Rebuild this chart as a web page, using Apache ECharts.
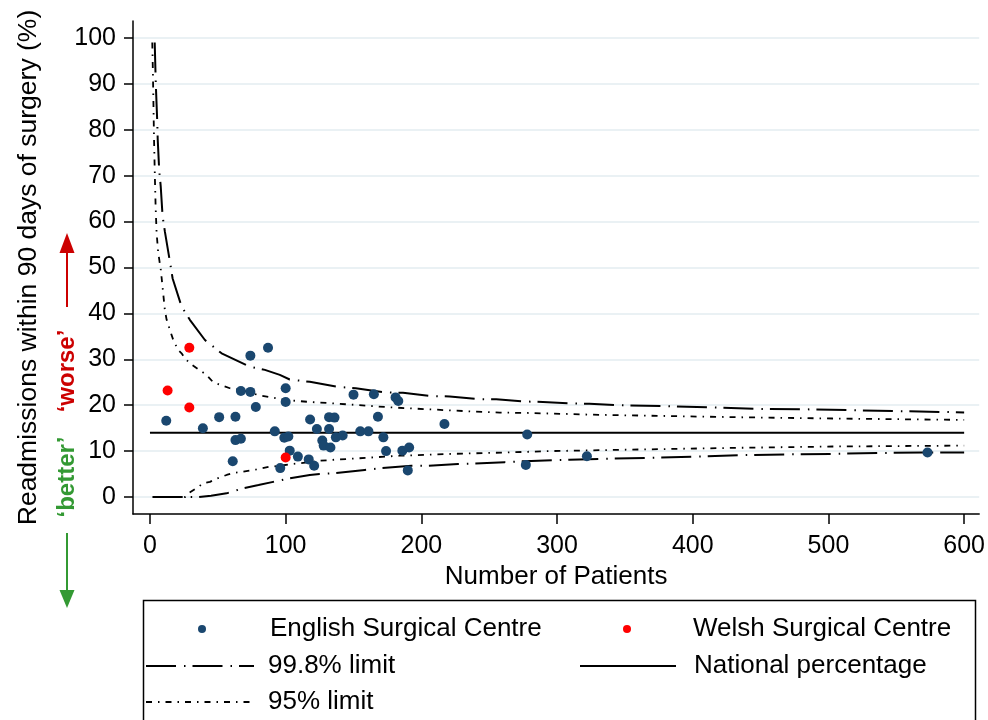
<!DOCTYPE html>
<html><head><meta charset="utf-8">
<script src="https://cdn.jsdelivr.net/npm/echarts@6/dist/echarts.min.js"></script>
<style>html,body{margin:0;padding:0;background:#fff}#c{width:988px;height:720px}</style>
</head><body><div id="c"></div>
<script>
const xTicks = [0, 100, 200, 300, 400, 500, 600];
const yTicks = [0, 10, 20, 30, 40, 50, 60, 70, 80, 90, 100];

const englishN = [87, 74, 67, 74, 100, 100, 78, 12, 51, 63, 118, 39, 92, 63, 67, 99, 102, 103, 109, 117, 61, 96, 150, 165, 181, 183, 132, 136, 168, 217, 123, 132, 155, 161, 278, 137, 142, 172, 127, 128, 133, 174, 186, 191, 121, 190, 277, 322, 573];
const englishPct = [32.5, 30.8, 23.1, 22.9, 23.7, 20.7, 19.6, 16.6, 17.4, 17.5, 16.9, 15.0, 14.3, 12.4, 12.7, 12.9, 13.2, 10.1, 8.8, 8.2, 7.8, 6.3, 22.3, 22.4, 21.7, 20.9, 17.4, 17.3, 17.5, 15.9, 14.8, 14.8, 14.3, 14.3, 13.6, 13.0, 13.4, 13.0, 12.3, 11.2, 10.8, 10.0, 10.1, 10.8, 6.8, 5.8, 7.0, 8.9, 9.7];

const welshN = [29, 13, 29, 100];
const welshPct = [32.5, 23.2, 19.5, 8.6];

const nationalN = [0, 600];
const nationalPct = [14.0, 14.0];

const upper998N = [3.5, 4.3, 5.4, 5.7, 6.8, 7.9, 9.3, 11, 14.7, 16.7, 23.3, 29.4, 40.5, 52.8, 73.6, 84.7, 95.7, 103, 117.8, 138.6, 151.7, 173, 186.5, 207.4, 220.9, 242.2, 255.2, 277.3, 289.6, 311.6, 323.9, 346, 380.4, 414.7, 450.3, 484.6, 519, 553, 589, 600];
const upper998Pct = [99, 90, 81.5, 78, 71.2, 67.8, 61.2, 57.8, 51.3, 47.6, 41.5, 38.6, 34.2, 31.3, 28.4, 27.7, 26.6, 25.6, 25.1, 24.0, 23.7, 22.8, 22.7, 22.0, 21.9, 21.3, 21.3, 20.8, 20.7, 20.4, 20.3, 20.0, 19.8, 19.5, 19.2, 19.1, 18.9, 18.7, 18.5, 18.4];

const upper95N = [1.7, 2.2, 2.6, 3, 3.6, 4.2, 4.9, 6, 7.2, 8, 11, 12.3, 14.7, 17.2, 20.8, 23.3, 25.8, 29.4, 41.7, 46.6, 58.9, 66.3, 80, 93, 105.5, 117.8, 135, 179, 233, 257.7, 280, 331, 429, 503, 600];
const upper95Pct = [99, 92, 85, 78, 70, 63, 57.5, 53.5, 51, 49.5, 40.7, 38.6, 36.4, 34.2, 32.0, 31.3, 30.2, 29.1, 26.6, 25.0, 23.7, 23.4, 22.2, 21.5, 21.0, 20.7, 20.4, 19.5, 18.7, 18.4, 18.3, 17.9, 17.4, 17.1, 16.8];

const lower998N = [2, 36, 45, 56.5, 63, 68.7, 80, 90.8, 101.8, 117.8, 125, 136.2, 158.3, 170.6, 192.7, 204.9, 227, 239.3, 261.4, 276, 297, 309, 331, 365.7, 400, 434.4, 470, 504, 538.7, 574, 600];
const lower998Pct = [0, 0, 0.3, 0.8, 1.4, 1.9, 2.6, 3.3, 4.0, 4.8, 5.0, 5.2, 5.9, 6.3, 6.8, 6.8, 7.2, 7.3, 7.6, 7.8, 8.0, 8.1, 8.3, 8.5, 8.8, 9.1, 9.3, 9.4, 9.6, 9.7, 9.7];

const lower95N = [2, 26, 28.2, 35.6, 39.2, 44.2, 49, 56.5, 61.3, 78.5, 88.3, 95.7, 105.5, 117.8, 125.2, 139.9, 152, 184, 223, 262.6, 294.5, 331, 429, 503, 600];
const lower95Pct = [0, 0, 0.8, 2.2, 3.0, 3.3, 4.0, 4.8, 5.2, 6.0, 6.6, 6.8, 7.2, 7.6, 7.9, 8.2, 8.4, 9.0, 9.4, 9.7, 10.0, 10.2, 10.7, 11.0, 11.2];

const zip = (a, b) => a.map((v, i) => [v, b[i]]);
const F = '"Liberation Sans", Arial, Helvetica, sans-serif';
const NAVY = '#1a476f';
const RED = '#ff0000';
const DASH998 = [30, 8, 1.5, 7];
const DASH95 = [6, 6, 1.5, 6];

const chart = echarts.init(document.getElementById('c'), null, {renderer: 'canvas'});

function leg(left, top, w, h, name, pad, hideSym) {
  return {
    left: left, top: top, orient: 'horizontal', padding: 0, selectedMode: false,
    itemWidth: w, itemHeight: h,
    data: [hideSym ? {name: name, itemStyle: {opacity: 0}} : name],
    textStyle: {fontFamily: F, fontSize: 26, color: '#000', lineHeight: 30, padding: [0, 0, 0, pad]}
  };
}

const option = {
  animation: false,
  backgroundColor: '#fff',
  grid: {left: 133, right: 8, top: 21, bottom: 206, containLabel: false},
  xAxis: {
    type: 'value', min: -12.5, max: 611.1,
    name: 'Number of Patients', nameLocation: 'middle', nameGap: 45,
    nameTextStyle: {fontFamily: F, fontSize: 26, color: '#000'},
    axisLine: {show: true, onZero: false, lineStyle: {color: '#000', width: 1.5}},
    axisTick: {show: true, length: 10, customValues: xTicks, lineStyle: {color: '#000', width: 1.5}},
    axisLabel: {customValues: xTicks, margin: 20, fontFamily: F, fontSize: 25, color: '#000'},
    splitLine: {show: false}
  },
  yAxis: {
    type: 'value', min: -3.7, max: 103.7,
    name: 'Readmissions within 90 days of surgery (%)', nameLocation: 'middle', nameGap: 91,
    nameTextStyle: {fontFamily: F, fontSize: 26.5, color: '#000'},
    axisLine: {show: true, onZero: false, lineStyle: {color: '#000', width: 1.5}},
    axisTick: {show: true, length: 9, customValues: yTicks, lineStyle: {color: '#000', width: 1.5}},
    axisLabel: {customValues: yTicks, margin: 17, fontFamily: F, fontSize: 25, color: '#000'},
    splitLine: {show: true, lineStyle: {color: '#e3ecf0', width: 1.5}}
  },
  legend: [
    leg(198, 614, 108, 8, 'English Surgical Centre', 9, false),
    leg(623, 614, 96, 8, 'Welsh Surgical Centre', 13, false),
    leg(145, 651, 108, 10, '99.8% limit', 9, true),
    leg(579, 651, 96, 10, 'National percentage', 13, true),
    leg(145, 687, 108, 10, '95% limit', 9, true)
  ],
  series: [
    {name: '99.8% limit', type: 'line', symbol: 'none', data: zip(upper998N, upper998Pct),
     lineStyle: {color: '#000', width: 2, type: DASH998}, itemStyle: {color: '#000'}, z: 2},
    {name: '99.8% limit', type: 'line', symbol: 'none', data: zip(lower998N, lower998Pct),
     lineStyle: {color: '#000', width: 2, type: DASH998}, itemStyle: {color: '#000'}, z: 2},
    {name: '95% limit', type: 'line', symbol: 'none', data: zip(upper95N, upper95Pct),
     lineStyle: {color: '#000', width: 1.8, type: DASH95}, itemStyle: {color: '#000'}, z: 2},
    {name: '95% limit', type: 'line', symbol: 'none', data: zip(lower95N, lower95Pct),
     lineStyle: {color: '#000', width: 1.8, type: DASH95}, itemStyle: {color: '#000'}, z: 2},
    {name: 'National percentage', type: 'line', symbol: 'none', data: zip(nationalN, nationalPct),
     lineStyle: {color: '#000', width: 2, type: 'solid'}, itemStyle: {color: '#000'}, z: 2},
    {name: 'English Surgical Centre', type: 'scatter', symbol: 'circle', symbolSize: 10,
     data: zip(englishN, englishPct), itemStyle: {color: NAVY, opacity: 1}, z: 3},
    {name: 'Welsh Surgical Centre', type: 'scatter', symbol: 'circle', symbolSize: 10,
     data: zip(welshN, welshPct), itemStyle: {color: RED, opacity: 1}, z: 4}
  ],
  graphic: [
    {type: 'rect', silent: true, shape: {x: 143.5, y: 600.5, width: 832, height: 140},
     style: {fill: 'none', stroke: '#000', lineWidth: 1.5}},
    {type: 'text', x: 67, y: 371, rotation: Math.PI / 2, silent: true,
     style: {text: '\u2018worse\u2019', fill: '#cc0000', font: 'bold 24px "Liberation Sans", Arial, sans-serif', align: 'center', verticalAlign: 'middle'}},
    {type: 'text', x: 67, y: 477, rotation: Math.PI / 2, silent: true,
     style: {text: '\u2018better\u2019', fill: '#339933', font: 'bold 24px "Liberation Sans", Arial, sans-serif', align: 'center', verticalAlign: 'middle'}},
    {type: 'line', silent: true, shape: {x1: 67, y1: 307, x2: 67, y2: 250}, style: {stroke: '#cc0000', lineWidth: 2}},
    {type: 'polygon', silent: true, shape: {points: [[67, 233], [59.5, 253], [74.5, 253]]}, style: {fill: '#cc0000'}},
    {type: 'line', silent: true, shape: {x1: 67, y1: 533, x2: 67, y2: 592}, style: {stroke: '#339933', lineWidth: 2}},
    {type: 'polygon', silent: true, shape: {points: [[67, 608], [59.5, 590], [74.5, 590]]}, style: {fill: '#339933'}}
  ]
};
chart.setOption(option);
</script>
</body></html>
